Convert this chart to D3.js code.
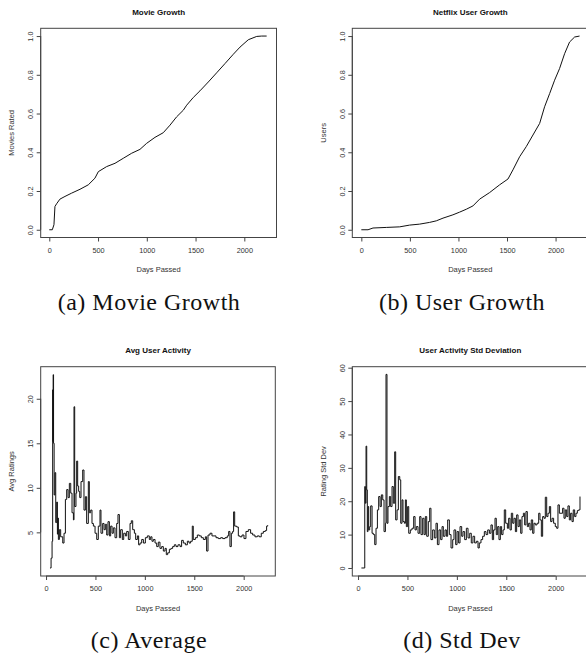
<!DOCTYPE html>
<html>
<head>
<meta charset="utf-8">
<script src="https://cdn.jsdelivr.net/npm/d3@7"></script>
<style>
  body { margin: 0; background: #fff; }
  svg { display: block; }
  .panel-title { font-family: Arial, "Liberation Sans", sans-serif; font-weight: bold; font-size: 8px; fill: #111; }
  .axis-label { font-family: Arial, "Liberation Sans", sans-serif; font-size: 7.5px; fill: #333; }
  .tick-label { font-family: Arial, "Liberation Sans", sans-serif; font-size: 7.3px; fill: #333; }
  .caption { font-family: "Liberation Serif", "Times New Roman", serif; font-size: 24px; letter-spacing: 0.5px; fill: #111; }
</style>
</head>
<body>
<script>
// ---- data ----
var xTicks = [0, 500, 1000, 1500, 2000];

var movieDays  = [0, 31, 48, 58, 75, 109, 161, 229, 315, 400, 468, 503, 588, 674, 759, 845, 930, 998, 1084, 1169, 1238, 1306, 1374, 1409, 1477, 1545, 1631, 1716, 1802, 1887, 1956, 2041, 2127, 2178, 2229];
var movieShare = [0, 0, 0.026, 0.12, 0.134, 0.158, 0.172, 0.189, 0.209, 0.232, 0.266, 0.3, 0.326, 0.343, 0.369, 0.395, 0.415, 0.446, 0.477, 0.501, 0.54, 0.583, 0.617, 0.643, 0.683, 0.717, 0.763, 0.81, 0.858, 0.906, 0.943, 0.981, 0.998, 1, 1];
var movieYTicks = [0, 0.2, 0.4, 0.6, 0.8, 1.0];

var userDays  = [0, 69, 120, 257, 395, 497, 600, 703, 772, 841, 943, 1012, 1081, 1149, 1218, 1321, 1424, 1510, 1561, 1630, 1698, 1767, 1836, 1887, 1939, 1990, 2041, 2093, 2144, 2196, 2247];
var userShare = [0, 0, 0.009, 0.012, 0.015, 0.024, 0.029, 0.038, 0.046, 0.06, 0.077, 0.091, 0.106, 0.123, 0.158, 0.192, 0.232, 0.262, 0.309, 0.377, 0.429, 0.489, 0.549, 0.635, 0.703, 0.772, 0.832, 0.909, 0.969, 0.995, 1];
var userYTicks = [0, 0.2, 0.4, 0.6, 0.8, 1.0];

var avgDays = [40, 51, 61, 67, 70, 72, 76, 82, 90, 98, 108, 115, 120, 125, 135, 148, 169, 182, 196, 209, 223, 236, 250, 263, 277, 283, 290, 303, 310, 320, 330, 341, 354, 371, 384, 398, 411, 428, 438, 452, 465, 479, 496, 513, 529, 546, 556, 573, 587, 600, 614, 627, 641, 654, 668, 681, 698, 715, 728, 742, 755, 772, 786, 803, 816, 833, 850, 863, 877, 894, 907, 924, 937, 951, 968, 985, 1005, 1025, 1045, 1059, 1072, 1086, 1103, 1120, 1136, 1153, 1170, 1187, 1204, 1217, 1231, 1248, 1265, 1281, 1298, 1315, 1335, 1356, 1372, 1389, 1410, 1430, 1447, 1463, 1480, 1490, 1511, 1531, 1551, 1571, 1592, 1612, 1625, 1639, 1659, 1679, 1700, 1720, 1743, 1767, 1787, 1811, 1834, 1848, 1861, 1875, 1888, 1898, 1909, 1929, 1946, 1962, 1983, 2003, 2023, 2047, 2070, 2091, 2114, 2138, 2158, 2178, 2199, 2219, 2232, 2243];
var avgRatings = [1.0, 2.1, 4.0, 21.0, 15.2, 22.7, 15.0, 9.2, 11.7, 6.1, 8.4, 4.8, 6.6, 4.2, 5.3, 4.5, 3.8, 4.9, 8.7, 9.8, 8.9, 10.5, 9.4, 7.2, 6.4, 19.1, 7.9, 9.4, 13.0, 10.2, 9.6, 8.9, 10.7, 12.0, 7.5, 9.0, 6.0, 10.7, 7.2, 7.5, 6.0, 5.7, 4.9, 4.2, 5.7, 7.5, 4.9, 6.0, 5.3, 5.9, 4.7, 6.2, 4.6, 5.7, 4.9, 5.5, 4.4, 6.0, 7.0, 4.4, 5.3, 4.2, 4.9, 4.6, 5.1, 4.2, 6.0, 6.3, 5.3, 4.9, 4.2, 4.6, 3.6, 3.8, 4.2, 3.8, 4.4, 4.6, 4.2, 4.5, 4.0, 4.2, 3.8, 3.4, 3.9, 3.2, 3.4, 2.9, 3.2, 2.5, 2.7, 3.1, 3.2, 3.4, 3.6, 3.4, 3.6, 3.4, 4.1, 3.8, 3.6, 4.0, 3.8, 4.0, 5.7, 4.2, 4.4, 4.7, 4.6, 4.4, 4.2, 4.5, 2.9, 4.7, 4.9, 4.6, 4.6, 4.4, 4.3, 4.4, 4.3, 4.4, 4.6, 5.1, 3.4, 4.9, 5.1, 7.3, 5.7, 5.6, 4.6, 4.5, 4.7, 4.3, 5.1, 5.3, 4.9, 4.7, 4.5, 4.6, 4.5, 4.9, 5.1, 5.2, 5.7, 5.8];
var avgYTicks = [5, 10, 15, 20];

var sdDays = [34, 67, 68, 74, 81, 88, 94, 101, 108, 118, 128, 142, 155, 169, 182, 196, 209, 223, 236, 250, 263, 277, 283, 293, 303, 317, 330, 344, 357, 371, 381, 395, 408, 422, 432, 445, 455, 469, 479, 489, 502, 513, 529, 546, 563, 577, 590, 607, 624, 637, 654, 668, 681, 695, 711, 725, 738, 755, 772, 789, 803, 819, 836, 850, 863, 880, 894, 907, 924, 941, 958, 971, 988, 1002, 1018, 1032, 1049, 1062, 1079, 1096, 1113, 1130, 1146, 1163, 1180, 1197, 1214, 1227, 1244, 1261, 1278, 1295, 1312, 1329, 1345, 1359, 1372, 1386, 1399, 1413, 1426, 1440, 1453, 1467, 1480, 1494, 1511, 1524, 1538, 1551, 1565, 1578, 1592, 1605, 1619, 1632, 1646, 1659, 1673, 1686, 1699, 1713, 1726, 1740, 1753, 1767, 1780, 1794, 1811, 1828, 1841, 1855, 1868, 1882, 1895, 1909, 1922, 1936, 1949, 1963, 1979, 1996, 2010, 2023, 2037, 2054, 2070, 2084, 2097, 2111, 2124, 2138, 2151, 2165, 2178, 2192, 2205, 2219, 2232, 2246];
var sdRatings = [0, 0, 24.4, 19.4, 36.5, 23.4, 10.9, 18.4, 11.4, 12.4, 18.6, 10.4, 10.0, 7.0, 11.9, 17.4, 21.4, 18.4, 21.9, 20.4, 10.9, 13.4, 58.0, 13.4, 18.4, 21.4, 18.4, 24.4, 19.4, 34.8, 14.4, 17.4, 27.4, 26.4, 13.4, 20.4, 13.9, 13.4, 20.4, 12.4, 18.4, 10.4, 11.4, 11.9, 15.4, 11.4, 12.4, 10.4, 15.4, 10.0, 14.9, 10.0, 15.4, 9.5, 13.9, 17.9, 8.5, 11.4, 9.0, 13.4, 7.0, 11.4, 8.5, 12.4, 9.5, 11.4, 9.5, 14.4, 10.0, 6.0, 8.5, 11.4, 7.0, 10.9, 7.5, 12.4, 9.5, 10.9, 8.5, 11.9, 9.0, 10.4, 7.5, 9.5, 7.5, 8.0, 6.0, 7.5, 8.5, 9.5, 10.9, 10.0, 11.4, 10.4, 12.9, 8.5, 11.4, 14.9, 10.0, 12.4, 8.5, 12.4, 10.0, 11.4, 17.4, 13.4, 11.9, 14.9, 11.4, 16.4, 13.4, 14.9, 10.9, 15.9, 12.4, 14.4, 10.4, 15.4, 16.4, 12.9, 16.9, 12.4, 13.4, 11.4, 14.4, 10.4, 13.4, 12.9, 13.4, 16.4, 14.4, 9.5, 15.4, 14.9, 21.2, 15.4, 16.4, 18.4, 13.9, 14.9, 13.4, 12.4, 11.9, 18.9, 16.4, 16.4, 17.9, 14.9, 17.4, 15.4, 18.6, 14.4, 16.4, 13.9, 17.4, 15.4, 16.4, 17.2, 17.4, 21.4];
var sdYTicks = [0, 10, 20, 30, 40, 50, 60];

// ---- layout ----
var W = 586, H = 654;

var panels = [
  { title: "Movie Growth", ylab: "Movies Rated", caption: "(a) Movie Growth",
    days: movieDays, vals: movieShare, yTicks: movieYTicks, fmt: d3.format(".1f"),
    box: [40.7, 28.3, 276.5, 237.5], xDom: [-88, 2330], yDom: [-0.04, 1.04],
    step: false, capY: 310 },
  { title: "Netflix User Growth", ylab: "Users", caption: "(b) User Growth",
    days: userDays, vals: userShare, yTicks: userYTicks, fmt: d3.format(".1f"),
    box: [352.3, 28.3, 588.3, 237.5], xDom: [-93, 2337], yDom: [-0.04, 1.04],
    step: false, capY: 310 },
  { title: "Avg User Activity", ylab: "Avg Ratings", caption: "(c) Average",
    days: avgDays, vals: avgRatings, yTicks: avgYTicks, fmt: d3.format("d"),
    box: [40.7, 366.7, 275.3, 576], xDom: [-54, 2320], yDom: [0.1, 23.6],
    step: true, capY: 648 },
  { title: "User Activity Std Deviation", ylab: "Rating Std Dev", caption: "(d) Std Dev",
    days: sdDays, vals: sdRatings, yTicks: sdYTicks, fmt: d3.format("d"),
    box: [352.3, 366.7, 588.3, 576], xDom: [-58, 2330], yDom: [-2.4, 60.3],
    step: true, capY: 648 }
];

var svg = d3.select("body").append("svg")
  .attr("width", W)
  .attr("height", H);

function drawPanel(p) {
  var x0 = p.box[0], y0 = p.box[1], x1 = p.box[2], y1 = p.box[3];
  var cx = (x0 + x1) / 2, cy = (y0 + y1) / 2;

  var x = d3.scaleLinear().domain(p.xDom).range([x0, x1]);
  var y = d3.scaleLinear().domain(p.yDom).range([y1, y0]);

  var g = svg.append("g");

  // frame
  g.append("rect")
    .attr("x", x0).attr("y", y0)
    .attr("width", x1 - x0).attr("height", y1 - y0)
    .attr("fill", "none")
    .attr("stroke", "#444")
    .attr("stroke-width", 1);

  // x axis
  var xAxis = d3.axisBottom(x)
    .tickValues(xTicks)
    .tickSize(4)
    .tickPadding(6)
    .tickFormat(d3.format("d"));
  var gx = g.append("g")
    .attr("transform", "translate(0," + y1 + ")")
    .call(xAxis);
  gx.select(".domain")
    .attr("d", "M" + x(xTicks[0]) + ",0H" + x(xTicks[xTicks.length - 1]))
    .attr("stroke", "#444");
  gx.selectAll(".tick line").attr("stroke", "#444");
  gx.selectAll(".tick text")
    .attr("class", "tick-label")
    .attr("font-family", null).attr("font-size", null);

  // y axis
  var yAxis = d3.axisLeft(y)
    .tickValues(p.yTicks)
    .tickSize(4)
    .tickPadding(0)
    .tickFormat(p.fmt);
  var gy = g.append("g")
    .attr("transform", "translate(" + x0 + ",0)")
    .call(yAxis);
  gy.select(".domain")
    .attr("d", "M0," + y(p.yTicks[0]) + "V" + y(p.yTicks[p.yTicks.length - 1]))
    .attr("stroke", "#444");
  gy.selectAll(".tick line").attr("stroke", "#444");
  gy.selectAll(".tick text")
    .attr("class", "tick-label")
    .attr("font-family", null).attr("font-size", null)
    .attr("x", null).attr("dy", null)
    .attr("text-anchor", "middle")
    .attr("dominant-baseline", "central")
    .attr("transform", "translate(-10,0) rotate(-90)");

  // line
  var line = d3.line()
    .x(function(d, i) { return x(p.days[i]); })
    .y(function(d) { return y(d); })
    .curve(p.step ? d3.curveStepAfter : d3.curveLinear);

  g.append("path")
    .datum(p.vals)
    .attr("d", line)
    .attr("fill", "none")
    .attr("stroke", "#111")
    .attr("stroke-width", 1)
    .attr("stroke-linejoin", "miter");

  // titles
  g.append("text")
    .attr("class", "panel-title")
    .attr("x", cx).attr("y", y0 - 16)
    .attr("text-anchor", "middle")
    .attr("dominant-baseline", "central")
    .text(p.title);

  g.append("text")
    .attr("class", "axis-label")
    .attr("x", cx).attr("y", y1 + 32)
    .attr("text-anchor", "middle")
    .attr("dominant-baseline", "central")
    .text("Days Passed");

  g.append("text")
    .attr("class", "axis-label")
    .attr("text-anchor", "middle")
    .attr("dominant-baseline", "central")
    .attr("transform", "translate(" + (x0 - 29) + "," + cy + ") rotate(-90)")
    .text(p.ylab);

  g.append("text")
    .attr("class", "caption")
    .attr("x", p.box[0] < 300 ? 149 : 462)
    .attr("y", p.capY)
    .attr("text-anchor", "middle")
    .text(p.caption);
}

panels.forEach(drawPanel);
</script>
</body>
</html>
